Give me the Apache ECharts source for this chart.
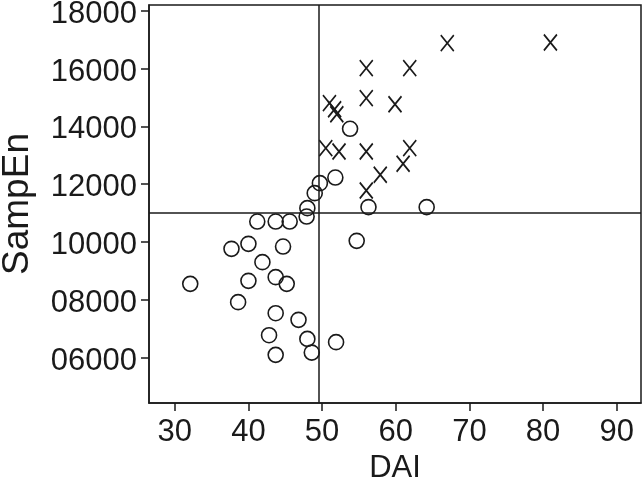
<!DOCTYPE html>
<html>
<head>
<meta charset="utf-8">
<script src="https://cdn.jsdelivr.net/npm/echarts@6/dist/echarts.min.js"></script>
<style>
  html, body { margin: 0; padding: 0; background: #fff; }
  #chart { width: 643px; height: 480px; }
</style>
</head>
<body>
<div id="chart"></div>
<script>
// 圆圈组 (DAI, SampEn)
const circleDai = [56.3, 41.2, 43.7, 45.6, 37.7, 40.0, 44.7, 54.7, 41.9, 32.1, 40.0, 43.7, 45.2, 38.6,
  43.7, 46.8, 42.8, 48.0, 51.9, 48.6, 43.7, 53.8, 51.8, 49.7, 49.0, 48.0, 47.9, 64.2];
const circleSampEn = [11210, 10710, 10710, 10710, 9765, 9938, 9845, 10042, 9305, 8554, 8658, 8786, 8554, 7921,
  7540, 7309, 6779, 6651, 6537, 6177, 6098, 13917, 12232, 12038, 11692, 11173, 10883, 11208];

// X 组
const crossDai = [67.0, 81.0, 56.0, 61.9, 56.0, 59.9, 51.0, 51.7, 52.0, 50.5, 52.3, 56.0, 61.9, 61.0, 57.9, 56.0];
const crossSampEn = [16882, 16903, 16017, 16017, 14979, 14765, 14806, 14592, 14419, 13250, 13132, 13132, 13250,
  12706, 12326, 11782];

// 分界线
const cutDai = 49.6;
const cutSampEn = 11000;

// 刻度
const xTicks = [30, 40, 50, 60, 70, 80, 90];
const yTicks = [6000, 8000, 10000, 12000, 14000, 16000, 18000];

const ink = "#1a1a1a";
const font = "Liberation Sans";

const zip = (xs, ys) => xs.map((x, i) => [x, ys[i]]);

const chart = echarts.init(document.getElementById("chart"));
chart.setOption({
  animation: false,
  grid: {
    left: 149,
    right: 2,
    top: 5,
    bottom: 77,
    containLabel: false,
    outerBoundsMode: "none",
    show: true,
    borderColor: ink,
    borderWidth: 1.5
  },
  xAxis: {
    type: "value",
    min: 26.5,
    max: 93.3,
    name: "DAI",
    nameLocation: "middle",
    nameGap: 49,
    nameTextStyle: { fontFamily: font, fontSize: 31, color: ink },
    axisLine: { show: true, onZero: false, lineStyle: { color: ink, width: 1.5 } },
    axisTick: { show: true, length: 8, customValues: xTicks, lineStyle: { color: ink, width: 1.5 } },
    axisLabel: { customValues: xTicks, margin: 14, fontFamily: font, fontSize: 31, color: ink },
    splitLine: { show: false }
  },
  yAxis: {
    type: "value",
    min: 4433,
    max: 18200,
    name: "SampEn",
    nameLocation: "middle",
    nameGap: 113,
    nameTextStyle: { fontFamily: font, fontSize: 37, color: ink },
    axisLine: { show: true, onZero: false, lineStyle: { color: ink, width: 1.5 } },
    axisTick: { show: true, length: 8, customValues: yTicks, lineStyle: { color: ink, width: 1.5 } },
    axisLabel: {
      customValues: yTicks,
      margin: 12,
      verticalAlign: "top",
      lineHeight: 7,
      fontFamily: font,
      fontSize: 31,
      color: ink,
      formatter: v => String(v).padStart(5, "0")
    },
    splitLine: { show: false }
  },
  series: [
    {
      type: "scatter",
      data: zip(circleDai, circleSampEn),
      symbol: "circle",
      symbolSize: 15,
      itemStyle: { color: "rgba(0,0,0,0)", borderColor: ink, borderWidth: 1.6, opacity: 1 },
      emphasis: { disabled: true },
      markLine: {
        silent: true,
        symbol: "none",
        label: { show: false },
        lineStyle: { color: ink, width: 1.5, type: "solid" },
        data: [{ xAxis: cutDai }, { yAxis: cutSampEn }]
      },
      z: 3
    },
    {
      type: "scatter",
      data: zip(crossDai, crossSampEn),
      symbol: "path://M0,0L13,16M13,0L0,16",
      symbolSize: [13, 16],
      itemStyle: { color: "rgba(0,0,0,0)", borderColor: ink, borderWidth: 1.8, opacity: 1 },
      emphasis: { disabled: true },
      z: 3
    }
  ]
});
</script>
</body>
</html>
